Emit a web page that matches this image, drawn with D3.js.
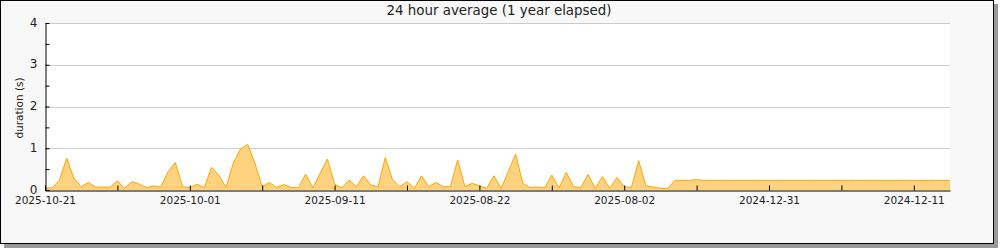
<!DOCTYPE html>
<html>
<head>
<meta charset="utf-8">
<script src="https://cdn.jsdelivr.net/npm/d3@7"></script>
<style>
  body { margin: 0; background: #fff; }
  svg text { font-family: "DejaVu Sans", sans-serif; fill: #222; }
  .tick text { font-size: 10.5px; }
  .domain { stroke: #000; }
</style>
</head>
<body>
<svg width="1000" height="250"></svg>
<script>
// daily 24h average duration (s), newest first
var values = [
  0.05, 0.05, 0.24, 0.76, 0.28, 0.08, 0.18, 0.07, 0.07, 0.07,
  0.22, 0.04, 0.20, 0.14, 0.06, 0.10, 0.07, 0.44, 0.66, 0.08,
  0.06, 0.14, 0.06, 0.54, 0.36, 0.06, 0.64, 0.98, 1.09, 0.64,
  0.08, 0.18, 0.06, 0.13, 0.06, 0.05, 0.38, 0.05, 0.40, 0.74,
  0.14, 0.05, 0.24, 0.08, 0.34, 0.12, 0.08, 0.78, 0.24, 0.08,
  0.20, 0.04, 0.34, 0.08, 0.18, 0.08, 0.08, 0.72, 0.08, 0.16,
  0.10, 0.04, 0.34, 0.04, 0.44, 0.86, 0.16, 0.06, 0.07, 0.05,
  0.36, 0.05, 0.42, 0.08, 0.06, 0.37, 0.04, 0.32, 0.04, 0.30,
  0.08, 0.06, 0.70, 0.10, 0.07, 0.04, 0.04, 0.23, 0.23, 0.23,
  0.25, 0.23, 0.23, 0.23, 0.23, 0.23, 0.23, 0.23, 0.23, 0.23,
  0.23, 0.23, 0.23, 0.23, 0.23, 0.23, 0.23, 0.23, 0.23, 0.23,
  0.23, 0.23, 0.23, 0.23, 0.23, 0.23, 0.23, 0.23, 0.23, 0.23,
  0.23, 0.23, 0.23, 0.23, 0.23, 0.23
];
// x tick labels, one every 20 points
var tickLabels = ["2025-10-21", "2025-10-01", "2025-09-11", "2025-08-22", "2025-08-02", "2024-12-31", "2024-12-11"];
var yTicks = [0, 1, 2, 3, 4];

const svg = d3.select('svg');
const plotLeft = 45, plotRight = 950, plotTop = 23, plotBottom = 190;

// frame + shadow
svg.append('rect').attr('x', 4).attr('y', 4).attr('width', 994).attr('height', 244).attr('fill', '#999');
svg.append('rect').attr('x', 0.5).attr('y', 0.5).attr('width', 993).attr('height', 243)
  .attr('fill', '#f8f8f8').attr('stroke', '#000');
svg.append('rect').attr('x', plotLeft).attr('y', plotTop).attr('width', plotRight - plotLeft).attr('height', plotBottom - plotTop)
  .attr('fill', '#fff');

const x = d3.scaleLinear().domain([0, values.length - 1]).range([plotLeft, plotRight]);
const y = d3.scaleLinear().domain([0, 4]).range([plotBottom, plotTop]);

// grid
svg.append('g').selectAll('line').data(yTicks.slice(1)).join('line')
  .attr('x1', plotLeft).attr('x2', plotRight)
  .attr('y1', d => Math.round(y(d)) + 0.5).attr('y2', d => Math.round(y(d)) + 0.5)
  .attr('stroke', '#ccc');

// area
const area = d3.area().x((d, i) => x(i)).y0(y(0)).y1(d => y(d));
const line = d3.line().x((d, i) => x(i)).y(d => y(d));
svg.append('path').datum(values).attr('d', area).attr('fill', '#ffd27f');
svg.append('path').datum(values).attr('d', line).attr('fill', 'none')
  .attr('stroke', '#ffa500').attr('stroke-width', 1);

// x axis
const xAxis = d3.axisBottom(x)
  .tickValues(d3.range(0, values.length, 10))
  .tickSizeInner(-5).tickSizeOuter(0).tickPadding(6)
  .tickFormat(d => d % 20 == 0 ? tickLabels[d / 20] : '');
svg.append('g').attr('transform', `translate(0,${plotBottom + 0.5})`).call(xAxis)
  .call(g => g.selectAll('.tick line').attr('stroke', '#000'));

// y axis
const yAxis = d3.axisLeft(y)
  .tickValues(d3.range(0, 4.01, 0.5))
  .tickSizeInner(-4).tickSizeOuter(0).tickPadding(8)
  .tickFormat(d => Number.isInteger(d) ? d : '');
svg.append('g').attr('transform', `translate(${plotLeft + 0.5},0)`).call(yAxis)
  .call(g => g.selectAll('.tick text').style('font-size', '12px').attr('dy', '0.25em'));

// title and label
svg.append('text').attr('x', 499).attr('y', 15).attr('text-anchor', 'middle')
  .style('font-size', '13.4px').text('24 hour average (1 year elapsed)');
svg.append('text').attr('transform', 'translate(23,108) rotate(-90)').attr('text-anchor', 'middle')
  .style('font-size', '10.5px').text('duration (s)');
</script>
</body>
</html>
